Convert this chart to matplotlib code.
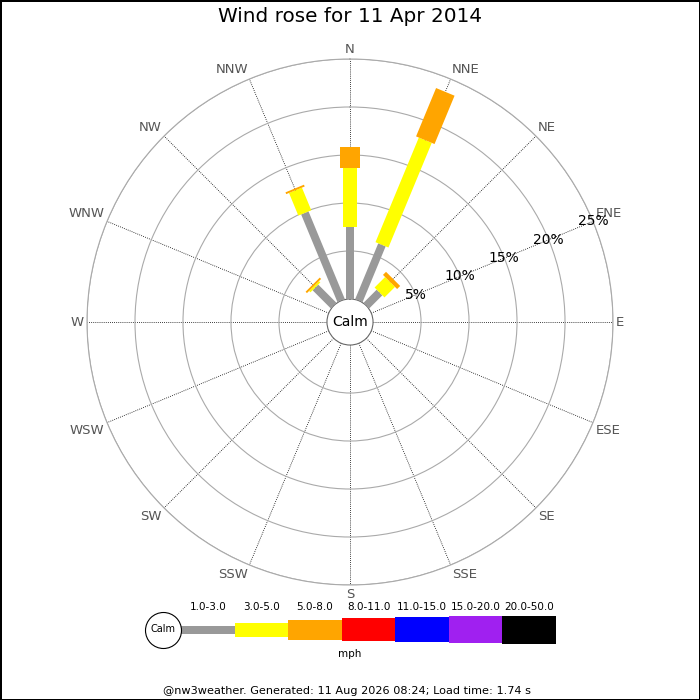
import numpy as np
import matplotlib
matplotlib.use('Agg')
import matplotlib.pyplot as plt

# Wind rose data: percentage of time per direction, split by speed bin (mph)
directions = ['N', 'NNE', 'NE', 'ENE', 'E', 'ESE', 'SE', 'SSE',
              'S', 'SSW', 'SW', 'WSW', 'W', 'WNW', 'NW', 'NNW']
speed_bins = ['1.0-3.0', '3.0-5.0', '5.0-8.0', '8.0-11.0',
              '11.0-15.0', '15.0-20.0', '20.0-50.0']
bin_colors = ['#999999', '#ffff00', '#ffa500', '#ff0000',
              '#0000ff', '#a020f0', '#000000']
bin_px = [8, 14, 20, 23, 25, 27, 28]   # bar thickness in pixels

pct_1_3 = [7.45, 6.3, 1.95, 0, 0, 0, 0, 0, 0, 0, 0, 0, 0, 0, 2.7, 9.9]
pct_3_5 = [6.2, 11.8, 1.55, 0, 0, 0, 0, 0, 0, 0, 0, 0, 0, 0, 0.2, 2.55]
pct_5_8 = [2.2, 5.45, 0.45, 0, 0, 0, 0, 0, 0, 0, 0, 0, 0, 0, 0.2, 0.2]
series = [pct_1_3, pct_3_5, pct_5_8]

ring_ticks = [5, 10, 15, 20, 25]
rmax = 25
calm_size = 2.4   # hole for "Calm" in the middle (in % units)

DPI = 100
fig = plt.figure(figsize=(7, 7), dpi=DPI)
fig.patch.set_edgecolor('black')
fig.patch.set_linewidth(1.0)

# polar axes centred at (350, 322) px, radius 263 px
R = 263 / 700
cy = 1 - 322 / 700
ax = fig.add_axes([0.5 - R, cy - R, 2 * R, 2 * R], projection='polar')
ax.set_theta_zero_location('N')
ax.set_theta_direction(-1)
ax.set_ylim(0, rmax)
ax.set_rorigin(-calm_size)

thetas = np.deg2rad(np.arange(16) * 22.5)
ax.set_xticks(thetas)
ax.set_xticklabels([])
ax.set_yticks(ring_ticks)
ax.set_yticklabels([])
ax.tick_params(length=0)
ax.xaxis.grid(True, color='black', linestyle=(0, (1, 1.5)), linewidth=0.6)
ax.yaxis.grid(True, color='#aaaaaa', linestyle='-', linewidth=0.8)
ax.spines['polar'].set_color('#aaaaaa')
ax.spines['polar'].set_linewidth(0.8)
ax.spines['inner'].set_color('#666666')
ax.spines['inner'].set_linewidth(0.8)

# stacked bars drawn as thick radial lines
for i, th in enumerate(thetas):
    base = 0
    for b, vals in enumerate(series):
        v = vals[i]
        if v > 0:
            ax.plot([th, th], [base, base + v], color=bin_colors[b],
                    linewidth=bin_px[b] * 72 / DPI, solid_capstyle='butt',
                    zorder=3 + b)
        base += v

# direction labels anchored just outside the outer circle
for name, th in zip(directions, thetas):
    s, c = np.sin(th), np.cos(th)
    ha = 'left' if s > 0.01 else ('right' if s < -0.01 else 'center')
    va = 'bottom' if c > 0.01 else ('top' if c < -0.01 else 'center')
    ax.text(th, rmax + 0.3, name, ha=ha, va=va, fontsize=9.5,
            color='#555555', clip_on=False)

# ring labels along ENE
for t in ring_ticks:
    ax.text(np.deg2rad(67.5), t, f'{t}%', ha='center', va='center',
            fontsize=10, color='black', zorder=10)

ax.text(0.5, 0.5, 'Calm', transform=ax.transAxes, ha='center', va='center',
        fontsize=10)

fig.text(0.5, 1 - 17 / 700, 'Wind rose for 11 Apr 2014', ha='center',
         va='center', fontsize=14.4)

# legend strip
lx0, lx1, seg0, segw = 140, 560, 181, 53.57
lax = fig.add_axes([lx0 / 700, 1 - 660 / 700, (lx1 - lx0) / 700, 60 / 700])
lax.set_xlim((lx0 - seg0) / segw, (lx1 - seg0) / segw)
lax.set_ylim(30.5, -29.5)
lax.axis('off')
idx = np.arange(len(speed_bins))
lax.bar(idx, bin_px, bottom=[-h / 2 for h in bin_px], width=1,
        align='edge', color=bin_colors, linewidth=0)
for k, lab in enumerate(speed_bins):
    lax.text(k + 0.5, -22, lab, ha='center', va='center', fontsize=7.5)
lax.plot([(163 - seg0) / segw], [0], marker='o', markersize=36 * 72 / DPI,
         markerfacecolor='white', markeredgecolor='black',
         markeredgewidth=0.8, clip_on=False)
lax.text((163 - seg0) / segw, 0, 'Calm', ha='center', va='center',
         fontsize=7)
fig.text(0.5, 1 - 654 / 700, 'mph', ha='center', va='center', fontsize=7.5)

fig.text(0.496, 1 - 691 / 700,
         '@nw3weather. Generated: 11 Aug 2026 08:24; Load time: 1.74 s',
         ha='center', va='center', fontsize=8.1)

fig.savefig('out.png', dpi=DPI, edgecolor=fig.get_edgecolor())
